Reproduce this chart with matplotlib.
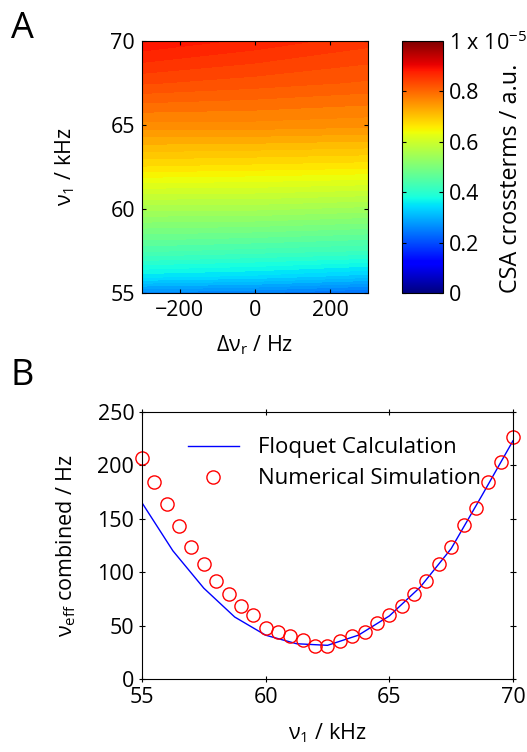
import matplotlib
matplotlib.use('Agg')
import matplotlib.pyplot as plt
import numpy as np

plt.rcParams['font.family'] = ['Open Sans', 'DejaVu Sans']
plt.rcParams['mathtext.default'] = 'regular'

# panel A: CSA crossterms (x 1e-5) on a coarse grid
dnu_r = [-300, 0, 300]                                  # Hz
nu1_grid = [55, 56, 57.5, 60, 62.5, 65, 67.5, 70]      # kHz
csa_left = [0.26, 0.35, 0.44, 0.55, 0.67, 0.76, 0.83, 0.89]
csa_mid = [0.25, 0.34, 0.43, 0.55, 0.665, 0.76, 0.82, 0.87]
csa_right = [0.23, 0.32, 0.42, 0.54, 0.66, 0.755, 0.81, 0.85]

# panel B: effective frequency
nu1_sim = [55, 55.5, 56, 56.5, 57, 57.5, 58, 58.5, 59, 59.5, 60, 60.5, 61, 61.5,
           62, 62.5, 63, 63.5, 64, 64.5, 65, 65.5, 66, 66.5, 67, 67.5, 68, 68.5,
           69, 69.5, 70]
veff_sim = [207, 184, 164, 143, 124, 108, 92, 80, 68, 60, 48, 44, 40, 36.5,
            31, 31, 35.5, 40, 44, 52, 60, 68, 80, 92, 108, 124, 144, 160,
            184, 203, 227]
nu1_floq = [55, 56.25, 57.5, 58.75, 60, 61.25, 62.5, 63.75, 65, 66.25, 67.5, 68.75, 70]
veff_floq = [165, 120, 85, 58, 41, 33, 31.5, 41, 59, 86, 122, 172, 223]

fs = 15.5
fig = plt.figure(figsize=(5.27, 7.52), dpi=100)

# ---- A ----
ax1 = fig.add_axes([0.2694, 0.6104, 0.4288, 0.3351])
Z = np.array([csa_left, csa_mid, csa_right]).T * 1e-5
levels = np.linspace(0, 1e-5, 65)
cf = ax1.contourf(dnu_r, nu1_grid, Z, levels=levels, cmap='jet', vmin=0, vmax=1e-5)
ax1.set_xlim(-300, 300)
ax1.set_ylim(55, 70)
ax1.set_xticks([-200, 0, 200])
ax1.set_xticklabels(['\u2212200', '0', '200'])
ax1.set_yticks([55, 60, 65, 70])
ax1.tick_params(direction='in', top=True, right=True, labelsize=fs, length=3, pad=5)
ax1.set_xlabel('\u0394\u03bd$_r$ / Hz', fontsize=fs, labelpad=9)
ax1.set_ylabel('\u03bd$_1$ / kHz', fontsize=fs, labelpad=24)

cax = fig.add_axes([0.7628, 0.6104, 0.0778, 0.3351])
sm = plt.cm.ScalarMappable(cmap='jet', norm=plt.Normalize(0, 1e-5))
cb = fig.colorbar(sm, cax=cax)
cb.set_ticks([0, 0.2e-5, 0.4e-5, 0.6e-5, 0.8e-5, 1e-5])
cb.set_ticklabels(['0', '0.2', '0.4', '0.6', '0.8', '1 x 10$^{-5}$'])
cax.tick_params(direction='in', labelsize=fs, length=3, left=True, right=True, pad=4)
fig.text(0.97, 0.611, 'CSA crossterms / a.u.', fontsize=16.8, rotation=90,
         ha='center', va='bottom')

fig.text(0.02, 0.985, 'A', fontsize=26, va='top', ha='left')

# ---- B ----
ax2 = fig.add_axes([0.2694, 0.0971, 0.704, 0.3551])
ax2.plot(nu1_floq, veff_floq, color='blue', lw=1, label='Floquet Calculation')
ax2.plot(nu1_sim, veff_sim, 'o', mfc='none', mec='red', ms=9.5, mew=1,
         label='Numerical Simulation', clip_on=False)
ax2.set_xlim(55, 70)
ax2.set_ylim(0, 250)
ax2.set_xticks([55, 60, 65, 70])
ax2.set_yticks([0, 50, 100, 150, 200, 250])
ax2.tick_params(direction='inout', top=True, right=True, labelsize=fs, length=5, pad=3)
ax2.set_xlabel('\u03bd$_1$ / kHz', fontsize=fs, labelpad=10)
ax2.set_ylabel('\u03bd$_{eff}$ combined / Hz', fontsize=fs, labelpad=14)
ax2.legend(loc='upper left', bbox_to_anchor=(0.07, 0.98), frameon=False,
           fontsize=16, handlelength=2.3, handletextpad=0.85, labelspacing=0.45)

fig.text(0.02, 0.524, 'B', fontsize=26, va='top', ha='left')

fig.savefig('out.png', dpi=100)
